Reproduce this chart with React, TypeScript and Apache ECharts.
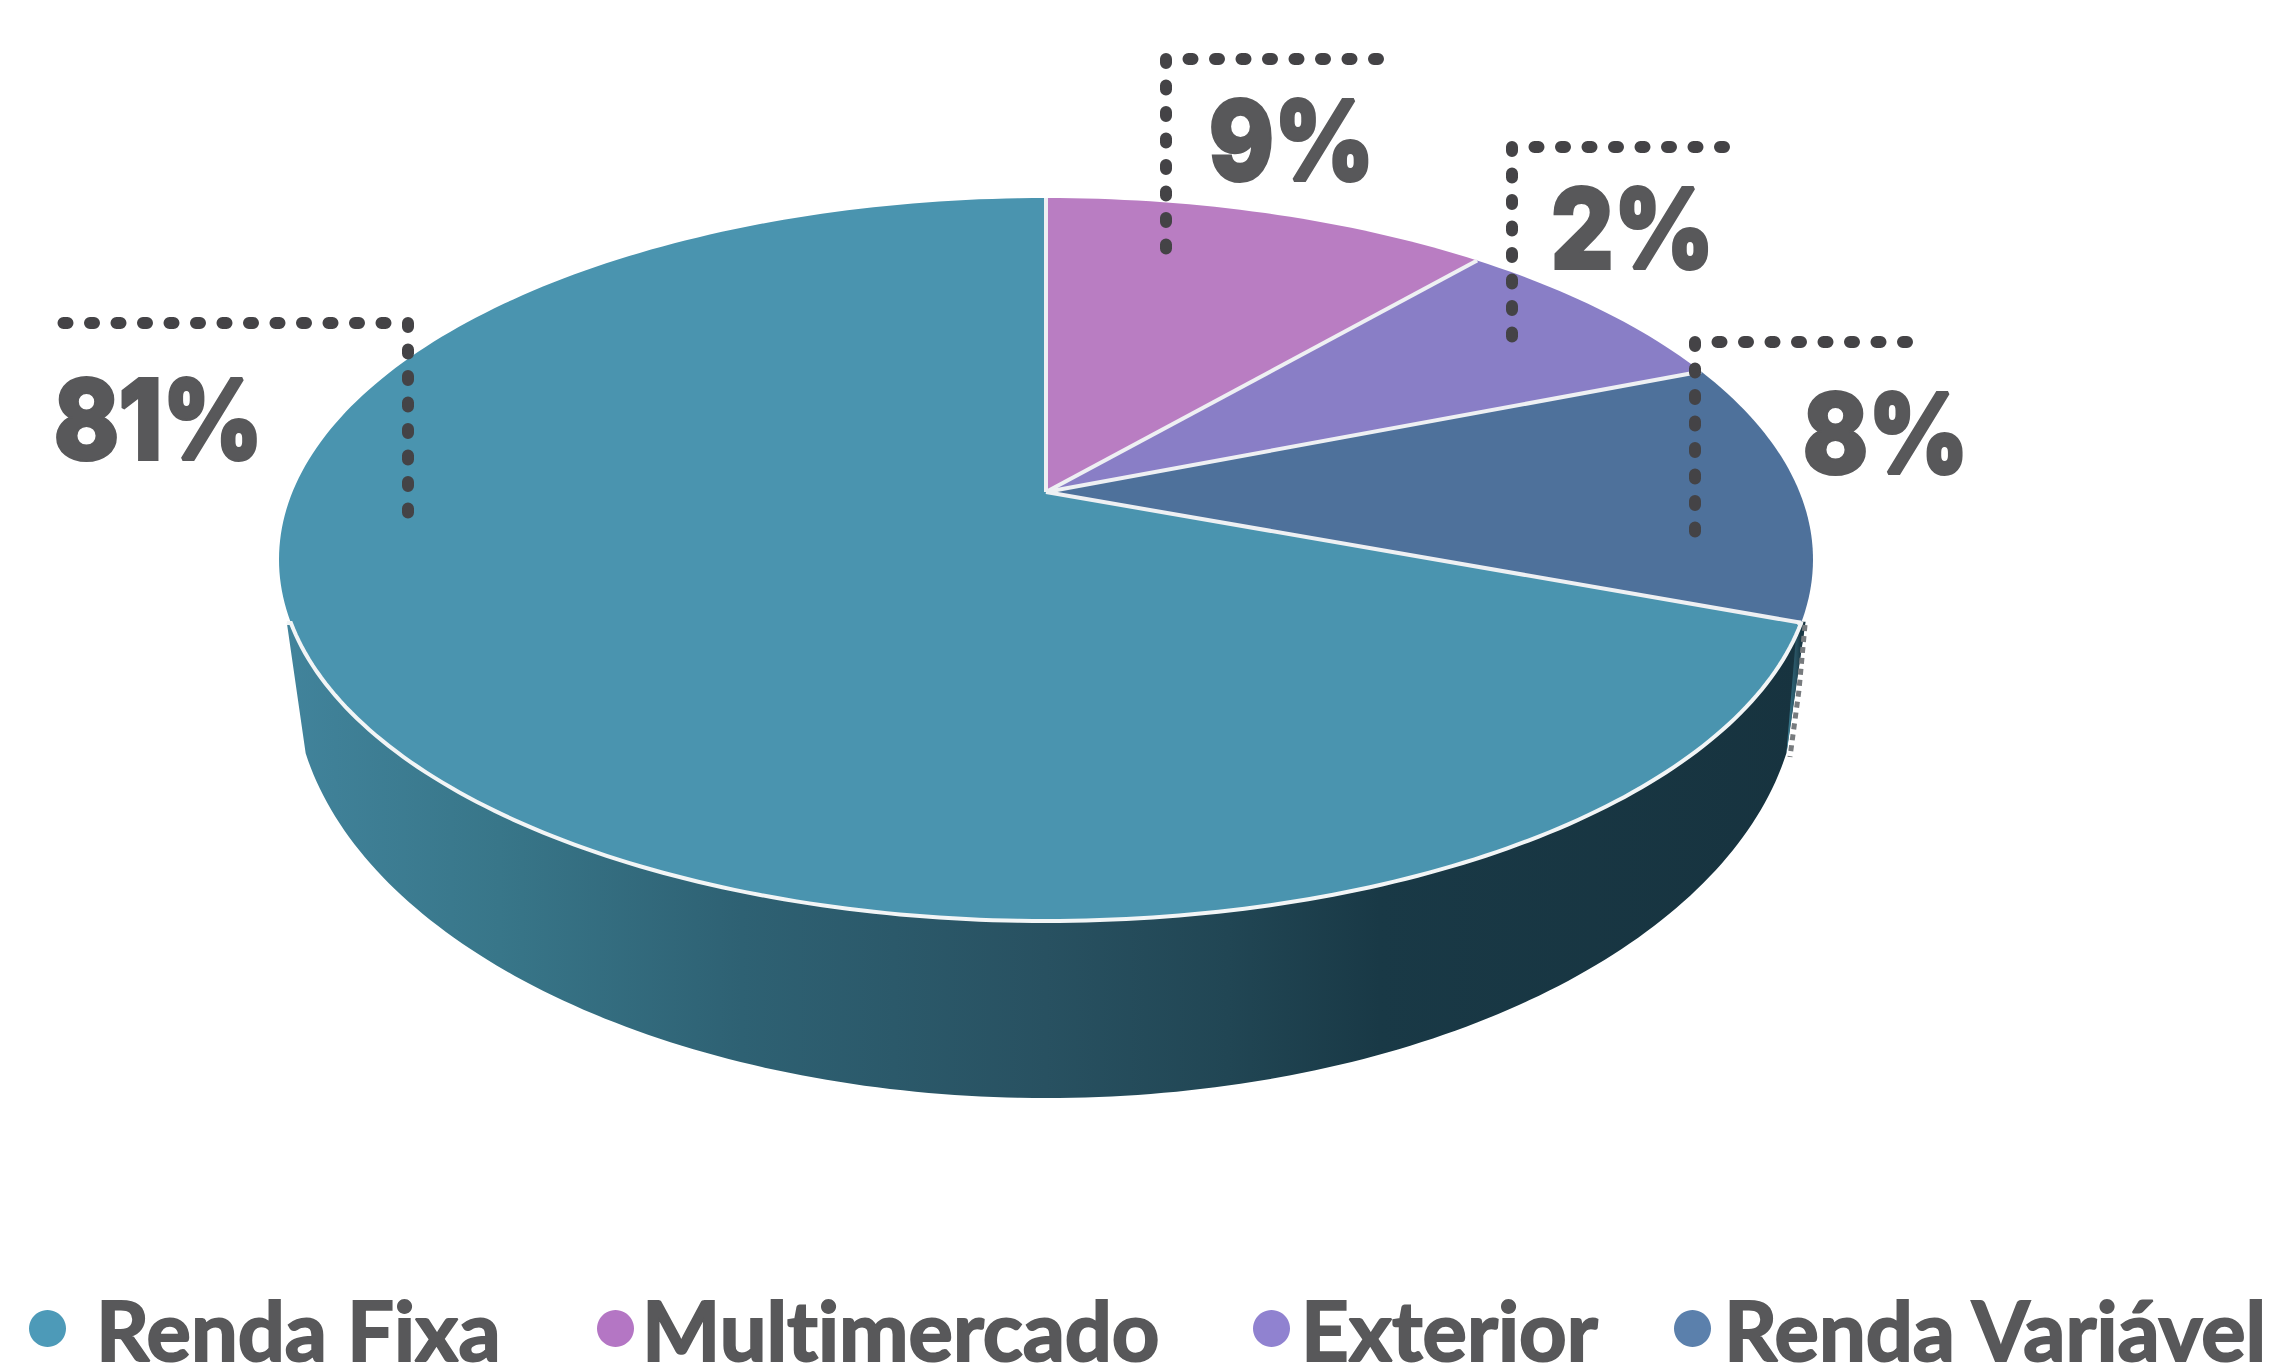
import React, { useEffect, useRef } from "react";
import * as echarts from "echarts";

// Legend order, as printed in the reference.
const categories = ["Renda Fixa", "Multimercado", "Exterior", "Renda Variável"];
// Percentages printed next to the slices.
const printedPercent = [81, 9, 2, 8];
// Slice shares as they are drawn in the reference: the picture's wedges do not
// follow the printed percentages, so they are read separately from the picture.
const drawnShare = [72.2, 9.5, 6.8, 11.5];
// Clockwise from twelve o'clock.
const clockwiseOrder = [1, 2, 3, 0];

const sliceColors = ["#4a94af", "#b97dc2", "#897ec6", "#4e719b"];
const legendColors = ["#4d9ab8", "#b476c4", "#9082d0", "#5b80ac"];

const TEXT = "#58585a";
const DOTS = "#444346";
const FONT = "Lato";
const LABEL_FONT = "Inter";

// Layout of the tilted disc (perspective: the apex sits above the ellipse centre).
const TOP = { cx: 1046, cy: 559.5, rx: 767, ry: 361.5, apexY: 492 };
const BOTTOM = { cx: 1046, cy: 680, rx: 752, ry: 418 };
const FRONT_FROM = 100.1;
const FRONT_TO = 259.9;
const WALL_OVERHANG = 4;

// Label and leader layout per category (legend order); ty is the text baseline.
const callouts = [
  { tx: 54, ty: 460, path: [[63.5, 323], [408, 323], [408, 513.5]] },
  { tx: 1209, ty: 181, path: [[1378, 59], [1166, 59], [1166, 249]] },
  { tx: 1551, ty: 269, path: [[1724, 147], [1512, 147], [1512, 337]] },
  { tx: 1803, ty: 474, path: [[1907, 342], [1695, 342], [1695, 532]] },
];

const legendLayout = [
  { left: 29, pad: 25 },
  { left: 597, pad: 3 },
  { left: 1253, pad: 6 },
  { left: 1674, pad: 8 },
];

const rad = (d: number) => (d * Math.PI) / 180;
const rim = (d: number) => [TOP.cx + TOP.rx * Math.sin(rad(d)), TOP.cy - TOP.ry * Math.cos(rad(d))];
const low = (d: number) => [BOTTOM.cx + BOTTOM.rx * Math.sin(rad(d)), BOTTOM.cy - BOTTOM.ry * Math.cos(rad(d))];
const arc = (f: (d: number) => number[], a: number, b: number) => {
  const n = Math.max(2, Math.ceil(Math.abs(b - a)));
  const pts: number[][] = [];
  for (let i = 0; i <= n; i++) pts.push(f(a + ((b - a) * i) / n));
  return pts;
};

const total = drawnShare.reduce((s, v) => s + v, 0);
const ranges: Record<number, [number, number]> = {};
let acc = 0;
clockwiseOrder.forEach((i) => {
  ranges[i] = [(acc / total) * 360, ((acc + drawnShare[i]) / total) * 360];
  acc += drawnShare[i];
});

const wallGradient = () =>
  new echarts.graphic.LinearGradient(0, 0, 1, 0, [
    { offset: 0, color: "#41839b" },
    { offset: 0.14, color: "#387689" },
    { offset: 0.3, color: "#2e6173" },
    { offset: 0.5, color: "#285161" },
    { offset: 0.62, color: "#214654" },
    { offset: 0.72, color: "#193946" },
    { offset: 1, color: "#17333f" },
  ]);

function makeRenderItem(i: number) {
  return (_params: any, api: any) => {
    const start = api.value(0) as number;
    const end = api.value(1) as number;
    const label = api.value(2) as number;
    const apex = [TOP.cx, TOP.apexY];
    const children: any[] = [];
    const from = Math.max(start, FRONT_FROM - 0.2);
    const to = Math.min(end, FRONT_TO);
    if (to > from) {
      const edge = arc(rim, from, to);
      const a = edge[0];
      const b = edge[edge.length - 1];
      const outer = [[a[0] + WALL_OVERHANG, a[1]], ...edge, [b[0] - WALL_OVERHANG, b[1]]];
      children.push({
        type: "polygon",
        z2: 1,
        shape: { points: [...outer, ...arc(low, Math.min(270, to), Math.max(90, from))] },
        style: { fill: wallGradient() },
      });
      children.push({
        type: "polyline",
        z2: 4,
        shape: { points: [edge[0], ...edge, [b[0] - WALL_OVERHANG, b[1]]] },
        style: { stroke: "#f2f5f6", lineWidth: 4, fill: "none" },
      });
    }
    children.push({
      type: "polygon",
      z2: 2,
      shape: { points: [apex, ...arc(rim, start, end)] },
      style: { fill: sliceColors[i] },
    });
    // Separator at the end of each wedge, and the sliver of the small wedge's wall.
    children.push({
      type: "polyline",
      z2: 3,
      shape: { points: [apex, rim(end)] },
      style: { stroke: "#eef0f3", lineWidth: 4, fill: "none" },
    });
    if (end > FRONT_FROM - 1 && start < FRONT_FROM - 1) {
      children.push({
        type: "polyline",
        z2: 1,
        shape: { points: [[1805, 625], [1799, 690], [1790, 757]] },
        style: { stroke: "#777b7e", lineWidth: 5, lineDash: [6, 5], fill: "none" },
      });
    }
    const c = callouts[i];
    children.push({
      type: "polyline",
      z2: 10,
      shape: { points: c.path },
      style: { stroke: DOTS, lineWidth: 12, lineDash: [4, 22.5], lineCap: "round", fill: "none" },
    });
    children.push({
      type: "text",
      z2: 11,
      x: c.tx,
      y: c.ty - 96,
      scaleX: 0.89,
      style: {
        text: `${label}%`,
        x: 0,
        y: 0,
        align: "left",
        verticalAlign: "top",
        fill: TEXT,
        stroke: TEXT,
        lineWidth: 4,
        lineJoin: "round",
        font: `800 110px ${LABEL_FONT}`,
      },
    });
    return { type: "group", children };
  };
}

export default function App() {
  const ref = useRef<HTMLDivElement>(null);
  useEffect(() => {
    const chart = echarts.init(ref.current!, undefined, { renderer: "svg" });
    chart.setOption({
      animation: false,
      backgroundColor: "#ffffff",
      legend: categories.map((name, i) => ({
        data: [{ name, icon: "circle", itemStyle: { color: legendColors[i] } }],
        left: legendLayout[i].left,
        top: 1286,
        padding: 0,
        itemWidth: 37,
        itemHeight: 38,
        selectedMode: false,
        textStyle: {
          color: TEXT,
          fontFamily: FONT,
          fontWeight: 700,
          fontSize: 83,
          textBorderColor: TEXT,
          textBorderWidth: 2,
          padding: [0, 0, 0, legendLayout[i].pad],
        },
      })),
      series: categories.map((name, i) => ({
        type: "custom",
        name,
        coordinateSystem: "none",
        silent: true,
        itemStyle: { color: legendColors[i] },
        renderItem: makeRenderItem(i),
        data: [[ranges[i][0], ranges[i][1], printedPercent[i]]],
      })),
    });
    return () => chart.dispose();
  }, []);
  return (
    <div
      ref={ref}
      style={{ position: "fixed", left: 0, top: 0, width: 2271, height: 1364, fontVariantLigatures: "none" }}
    />
  );
}
